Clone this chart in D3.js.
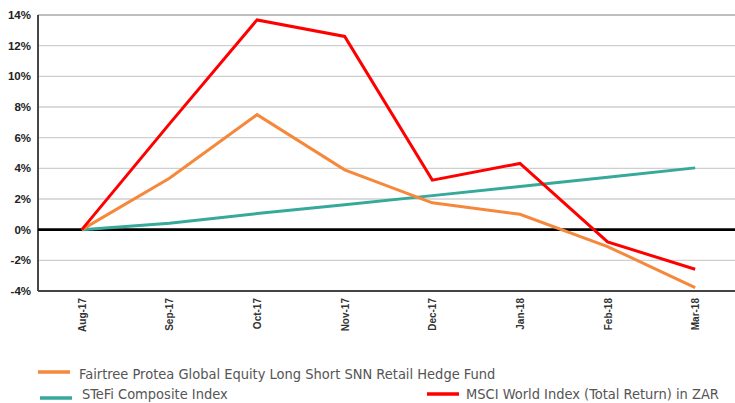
<!DOCTYPE html>
<html>
<head>
<meta charset="utf-8">
<script src="https://cdn.jsdelivr.net/npm/d3@7"></script>
<style>
  body { margin: 0; background: #fff; }
  svg { display: block; }
</style>
</head>
<body>
<svg id="chart" width="735" height="403"></svg>
<script>
// months on the x axis
const months = ["Aug-17", "Sep-17", "Oct-17", "Nov-17", "Dec-17", "Jan-18", "Feb-18", "Mar-18"];

// cumulative returns, in %
const fairtree = [0, 3.35, 7.5, 3.9, 1.75, 1.0, -1.1, -3.78];
const stefi = [0, 0.42, 1.05, 1.62, 2.22, 2.82, 3.42, 4.03];
const msci = [0, 6.9, 13.68, 12.6, 3.23, 4.32, -0.8, -2.58];

const yTicks = [-4, -2, 0, 2, 4, 6, 8, 10, 12, 14];

const series = [
  { name: "Fairtree Protea Global Equity Long Short SNN Retail Hedge Fund", values: fairtree, color: "#f5883a" },
  { name: "STeFi Composite Index", values: stefi, color: "#36a99a" },
  { name: "MSCI World Index (Total Return) in ZAR", values: msci, color: "#ff0000" }
];

const margin = { top: 15, right: -4, bottom: 112, left: 38 },
  width = 735,
  height = 403;

const svg = d3.select("#chart");

const x = d3.scaleBand().domain(months).range([margin.left, width - margin.right]);
const y = d3.scaleLinear().domain([-4, 14]).range([height - margin.bottom, margin.top]);

// gridlines
svg.append("g").selectAll("line")
  .data(yTicks.filter(d => d !== 0 && d !== -4))
  .join("line")
  .attr("x1", margin.left).attr("x2", width)
  .attr("y1", d => y(d)).attr("y2", d => y(d))
  .attr("stroke", d => d === 14 ? "#aaa" : "#cfcfcf")
  .attr("stroke-width", 1.3);

// y axis labels
svg.append("g").selectAll("text")
  .data(yTicks)
  .join("text")
  .attr("x", 31)
  .attr("y", d => y(d))
  .attr("dy", "0.36em")
  .attr("text-anchor", "end")
  .style("font-family", "'Liberation Sans', Arial, sans-serif")
  .style("font-weight", "bold")
  .style("font-size", "11.5px")
  .style("fill", "#222")
  .text(d => d + "%");

// x axis labels (rotated)
svg.append("g").selectAll("text")
  .data(months)
  .join("text")
  .attr("transform", d => `translate(${x(d) + x.bandwidth() / 2 + 4},298) rotate(-90)`)
  .attr("text-anchor", "end")
  .style("font-family", "'Liberation Sans', Arial, sans-serif")
  .style("font-weight", "bold")
  .style("font-size", "10px")
  .style("fill", "#333")
  .text(d => d);

// frame: left and bottom axis
svg.append("line")
  .attr("x1", margin.left).attr("x2", margin.left)
  .attr("y1", y(14)).attr("y2", y(-4))
  .attr("stroke", "#333").attr("stroke-width", 1.8);
svg.append("line")
  .attr("x1", margin.left).attr("x2", width)
  .attr("y1", y(-4)).attr("y2", y(-4))
  .attr("stroke", "#444").attr("stroke-width", 1.8);

// zero line
svg.append("line")
  .attr("x1", margin.left).attr("x2", width)
  .attr("y1", y(0)).attr("y2", y(0))
  .attr("stroke", "#000").attr("stroke-width", 2.6);

const line = d3.line()
  .x((d, i) => x(months[i]) + x.bandwidth() / 2)
  .y(d => y(d));

// draw in order: teal, orange, red on top
[series[1], series[0], series[2]].forEach(s => {
  svg.append("path")
    .datum(s.values)
    .attr("fill", "none")
    .attr("stroke", s.color)
    .attr("stroke-width", 3)
    .attr("stroke-linejoin", "miter")
    .attr("d", line);
});

// legend
const legendPos = [
  { x: 38, y: 372, tx: 79, ty: 379 },
  { x: 40, y: 398, tx: 82, ty: 399 },
  { x: 427, y: 394, tx: 466, ty: 399 }
];
const legend = svg.append("g");
series.forEach((s, i) => {
  const p = legendPos[i];
  legend.append("line")
    .attr("x1", p.x).attr("x2", p.x + 32)
    .attr("y1", p.y).attr("y2", p.y)
    .attr("stroke", s.color).attr("stroke-width", 3.5);
  legend.append("text")
    .attr("x", p.tx)
    .attr("y", p.ty)
    .style("font-family", "'DejaVu Sans Condensed', 'Liberation Sans Narrow', sans-serif")
    .style("font-stretch", "condensed")
    .style("font-size", "14.5px")
    .style("fill", "#555")
    .text(s.name);
});
</script>
</body>
</html>
